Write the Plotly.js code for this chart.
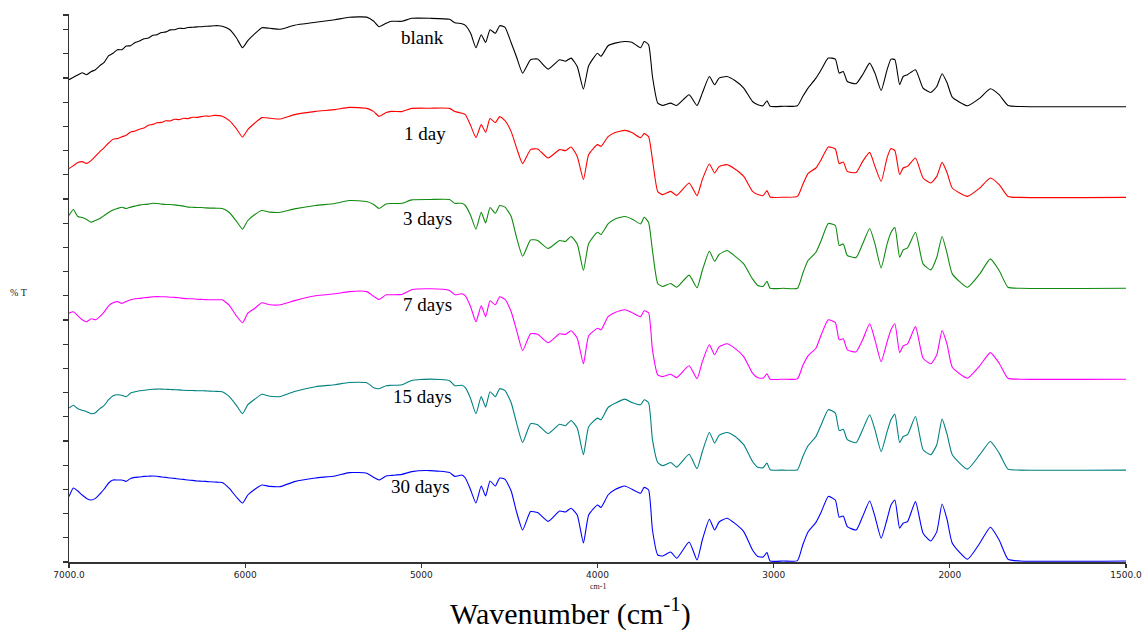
<!DOCTYPE html>
<html>
<head>
<meta charset="utf-8">
<script src="https://cdn.plot.ly/plotly-3.0.1.min.js"></script>
<style>
  html, body { margin: 0; padding: 0; background: #ffffff; }
  #chart { width: 1147px; height: 633px; }
</style>
</head>
<body>
<div id="chart"></div>
<script>
// Wavenumber grid (cm-1) shared by all spectra
const wavenumber = [
  7000, 6975, 6950, 6925, 6900, 6875, 6850, 6825, 6800, 6775,
  6750, 6725, 6700, 6675, 6650, 6625, 6600, 6575, 6550, 6525,
  6500, 6475, 6450, 6425, 6400, 6375, 6350, 6325, 6300, 6275,
  6250, 6225, 6200, 6175, 6150,
  6130, 6090, 6050, 6015, 5985, 5945, 5905, 5860, 5800, 5720,
  5600, 5490, 5410, 5310, 5270, 5240, 5200, 5170, 5110, 5055,
  4950, 4840, 4810, 4770, 4750, 4720, 4690, 4660, 4635, 4610,
  4580, 4555, 4525, 4490, 4460, 4425, 4380, 4340, 4280, 4215,
  4182, 4150, 4115, 4080, 4050, 4000, 3980, 3940, 3900, 3845,
  3805, 3755, 3735, 3710, 3688, 3658, 3630, 3585, 3550, 3480,
  3435, 3405, 3365, 3335, 3310, 3265, 3220, 3170, 3120, 3090,
  3060, 3038, 3020, 2945, 2865, 2835, 2805, 2760, 2730, 2690,
  2650, 2628, 2605, 2582, 2532, 2495, 2455, 2425, 2390, 2356,
  2334, 2312, 2285, 2265, 2240, 2195, 2152, 2108, 2074, 2044,
  2015, 1993, 1950, 1915, 1885, 1860, 1835, 1800, 1500
];

// Relative transmittance of each sample (arbitrary units above its own baseline)
const blank = [
  13.4, 14.6, 15.8, 16.9, 15.9, 17.4, 18.4, 20.4, 22.1, 25.4,
  26.6, 28.4, 28.4, 30.2, 30.4, 32.0, 32.7, 33.9, 34.2, 35.6,
  35.9, 37.0, 37.3, 38.3, 38.4, 39.1, 39.0, 39.5, 39.6, 39.8,
  39.9, 40.1, 40.2, 40.4, 40.4,
  40.1, 38.6, 34.4, 29.4, 32.9, 36.4, 39.4, 39.1, 38.6, 40.6,
  42.1, 43.4, 44.6, 44.7, 42.6, 39.9, 41.6, 42.6, 42.6, 44.1,
  44.1, 43.6, 41.9, 41.4, 40.6, 36.6, 29.4, 35.9, 32.0, 38.4,
  36.6, 40.4, 39.6, 31.9, 24.9, 16.7, 23.4, 23.7, 18.7, 23.4,
  22.6, 24.2, 20.0, 8.7, 20.4, 26.6, 25.1, 30.4, 31.7, 32.5,
  32.1, 29.4, 32.5, 30.9, 15.0, 1.7, 0.5, 1.7, 0.5, 5.9,
  0.5, 6.7, 15.0, 10.9, 14.2, 15.0, 13.0, 9.2, 2.5, 0.9,
  0.4, 2.9, 0.1, 0.1, 0.4, 5.0, 9.2, 14.2, 18.4, 24.2,
  23.7, 16.7, 17.5, 12.5, 11.4, 15.9, 21.7, 16.7, 8.0, 18.4,
  23.7, 23.4, 10.9, 15.0, 15.9, 18.4, 9.2, 7.0, 10.0, 16.4,
  11.7, 4.7, 0.4, 4.2, 8.9, 5.9, 0.5, 0, -0.1
];
const day1 = [
  14.4, 15.9, 17.4, 17.9, 17.0, 18.4, 20.6, 22.9, 24.9, 27.2,
  29.1, 29.4, 30.3, 31.1, 32.7, 33.2, 34.1, 34.7, 36.1, 36.5,
  37.3, 37.5, 38.3, 38.2, 39.1, 38.9, 39.6, 39.4, 40.1, 40.0,
  40.4, 40.7, 40.6, 41.0, 40.9,
  40.6, 38.4, 34.4, 30.2, 33.9, 37.2, 39.9, 39.6, 39.2, 41.4,
  43.0, 43.9, 45.0, 44.5, 42.9, 40.5, 42.4, 43.0, 42.9, 44.5,
  44.6, 44.5, 42.9, 42.1, 41.4, 35.9, 29.9, 36.4, 32.5, 39.4,
  37.4, 40.4, 38.4, 32.9, 24.9, 16.9, 23.9, 24.2, 19.7, 23.9,
  23.4, 25.2, 20.5, 8.9, 21.4, 26.4, 25.5, 30.4, 32.5, 33.5,
  32.4, 29.9, 31.9, 30.4, 18.9, 2.9, 1.4, 3.0, 1.0, 7.2,
  0.9, 8.9, 16.7, 12.2, 15.4, 16.4, 14.2, 10.5, 3.0, 1.4,
  0.9, 3.4, 0.2, 0.1, 0.5, 6.4, 11.9, 14.7, 18.9, 25.2,
  24.2, 16.9, 17.7, 13.0, 12.4, 18.0, 22.5, 15.5, 8.0, 19.9,
  24.4, 23.4, 11.4, 14.7, 15.5, 19.7, 9.7, 7.2, 10.5, 17.5,
  12.2, 4.7, 0.5, 4.7, 9.7, 6.4, 0.5, 0, 0
];
const days3 = [
  36.4, 39.4, 35.9, 35.4, 34.4, 33.0, 33.9, 34.9, 36.4, 37.9,
  39.1, 39.9, 40.5, 39.9, 40.6, 41.1, 41.6, 41.9, 42.1, 42.5,
  42.4, 42.1, 41.9, 41.9, 41.7, 41.4, 41.1, 40.6, 40.5, 40.4,
  40.4, 40.2, 40.1, 40.1, 40.0,
  39.9, 37.9, 33.6, 29.6, 33.9, 36.9, 38.9, 38.1, 38.0, 39.7,
  41.4, 42.4, 43.9, 43.4, 41.9, 39.9, 42.2, 42.4, 42.5, 44.2,
  44.4, 44.4, 42.5, 42.5, 41.4, 36.4, 29.6, 38.0, 32.7, 40.4,
  37.5, 41.4, 40.6, 35.9, 25.6, 16.0, 24.2, 23.9, 19.9, 23.9,
  23.4, 25.9, 22.2, 8.9, 22.4, 28.0, 26.9, 32.2, 34.7, 35.9,
  34.7, 32.2, 35.5, 32.9, 18.9, 2.4, 0.9, 2.4, 0.5, 6.6,
  0.3, 8.9, 18.5, 13.5, 16.9, 18.9, 16.1, 12.2, 4.7, 1.4,
  0.9, 3.5, 0, 0, 0, 7.4, 13.9, 18.0, 23.9, 32.4,
  31.4, 21.4, 22.2, 16.4, 15.4, 22.2, 29.9, 22.2, 10.2, 22.2,
  27.9, 30.4, 15.5, 19.2, 20.2, 28.0, 12.2, 9.2, 15.5, 25.9,
  17.2, 7.2, 0.5, 7.2, 14.7, 8.9, 0.5, 0, 0
];
const days7 = [
  33.0, 33.7, 31.7, 29.7, 28.7, 30.2, 29.7, 31.3, 33.7, 36.7,
  38.2, 38.8, 37.9, 38.9, 39.7, 40.2, 40.4, 40.7, 40.9, 41.2,
  41.3, 41.2, 41.2, 41.0, 40.9, 40.7, 40.4, 40.2, 40.2, 40.0,
  39.9, 39.8, 39.7, 39.7, 39.7,
  39.7, 36.9, 31.7, 28.2, 33.0, 35.5, 38.2, 37.2, 37.2, 39.3,
  41.7, 42.7, 43.8, 43.8, 41.4, 39.9, 42.2, 42.2, 42.4, 44.7,
  45.2, 44.4, 42.2, 42.7, 41.7, 36.2, 28.7, 36.7, 31.3, 39.2,
  37.2, 41.2, 39.9, 33.7, 24.7, 14.3, 22.7, 22.5, 18.2, 22.7,
  22.4, 24.2, 20.5, 7.7, 21.7, 25.5, 24.7, 31.3, 33.4, 34.7,
  33.3, 31.3, 34.2, 33.2, 14.7, 2.2, 1.3, 2.5, 0.8, 6.7,
  0.2, 8.7, 17.2, 12.2, 16.2, 17.7, 15.4, 11.3, 3.0, 0.7,
  0.5, 2.7, 0, 0, 0.2, 6.7, 11.7, 15.5, 22.2, 29.7,
  28.3, 19.7, 20.2, 14.7, 13.7, 19.7, 27.7, 19.7, 8.8, 18.7,
  24.7, 27.7, 13.3, 16.7, 17.7, 26.3, 10.5, 7.7, 12.2, 24.3,
  17.2, 6.0, 0.5, 6.7, 13.3, 8.0, 0.5, 0, 0
];
const days15 = [
  31.0, 32.4, 30.7, 29.9, 29.2, 28.2, 28.7, 30.7, 32.4, 35.2,
  37.2, 37.7, 37.4, 36.7, 38.5, 39.2, 39.7, 39.9, 40.2, 40.4,
  40.5, 40.5, 40.4, 40.3, 40.2, 40.1, 39.9, 39.8, 39.8, 39.7,
  39.7, 39.6, 39.5, 39.4, 39.3,
  39.2, 36.7, 32.4, 28.2, 32.7, 35.5, 37.9, 36.9, 36.8, 39.3,
  41.7, 42.7, 43.8, 43.7, 41.2, 40.7, 42.2, 42.4, 42.7, 44.8,
  45.5, 44.7, 42.2, 42.4, 41.2, 35.7, 28.2, 36.8, 31.5, 39.2,
  36.7, 40.7, 39.7, 33.7, 23.7, 13.8, 23.2, 22.7, 18.2, 22.9,
  22.2, 24.8, 21.0, 7.7, 21.7, 26.0, 25.2, 31.3, 33.4, 35.5,
  33.8, 32.7, 35.2, 33.7, 15.2, 3.8, 2.2, 3.8, 1.5, 7.9,
  0.7, 9.2, 18.8, 13.5, 17.4, 18.8, 16.9, 12.7, 4.3, 1.4,
  1.2, 3.5, 0.2, 0, 0.2, 6.7, 12.2, 16.8, 22.7, 30.2,
  28.5, 19.8, 20.4, 15.2, 13.7, 20.2, 27.7, 20.2, 9.3, 19.2,
  25.2, 27.9, 13.8, 16.8, 17.7, 26.8, 10.2, 7.7, 12.7, 25.5,
  17.7, 7.7, 0.5, 7.7, 14.3, 8.5, 0.5, 0, 0
];
const days30 = [
  32.2, 36.5, 35.0, 33.0, 31.3, 30.5, 31.3, 33.5, 36.0, 39.0,
  40.5, 40.5, 40.5, 39.8, 41.3, 41.8, 42.0, 42.3, 42.4, 42.5,
  42.4, 42.0, 41.8, 41.5, 41.3, 41.0, 40.8, 40.5, 40.3, 40.0,
  39.9, 39.8, 39.6, 39.5, 39.4,
  39.3, 36.3, 32.0, 29.0, 33.0, 35.9, 38.0, 37.3, 37.2, 39.7,
  41.5, 42.5, 44.2, 43.9, 41.8, 40.5, 42.5, 42.8, 43.3, 44.7,
  45.2, 44.2, 42.3, 43.0, 41.5, 35.5, 29.0, 37.5, 32.5, 40.0,
  37.5, 41.5, 40.8, 35.0, 24.7, 15.5, 24.7, 24.2, 19.8, 25.0,
  24.5, 26.4, 23.0, 9.0, 23.0, 28.0, 26.8, 33.0, 35.8, 37.5,
  35.9, 33.9, 36.8, 35.5, 15.5, 3.0, 2.5, 4.5, 1.4, 9.5,
  0.5, 10.5, 20.9, 15.5, 19.5, 21.4, 18.8, 14.7, 5.5, 2.3,
  2.0, 4.2, 0, 0, 0.2, 8.0, 14.5, 19.3, 24.5, 32.3,
  30.5, 21.9, 22.5, 17.2, 15.5, 22.2, 30.0, 22.2, 11.4, 21.0,
  28.0, 30.5, 16.4, 18.9, 19.7, 29.7, 13.9, 10.0, 14.7, 28.5,
  20.5, 8.9, 0.9, 8.9, 16.9, 10.5, 0.9, 0, 0
];

const seriesNames = ['blank', '1 day', '3 days', '7 days', '15 days', '30 days'];
const seriesValues = [blank, day1, days3, days7, days15, days30];

// Axis ticks
const tickWavenumbers = [7000, 6000, 5000, 4000, 3000, 2000, 1500];
const tickLabels = ['7000.0', '6000', '5000', '4000', '3000', '2000', '1500.0'];

// Presentation
const lineColors = ['#000000', '#ff0000', '#108a10', '#ff00ff', '#008080', '#0000ff'];
const stackBase = 0.5;
const stackStep = 45.45;
const yTop = 274;
const yTickStep = 12.1;
const labelAnchors = [
  { wn: 5125, y: 262.3 },
  { wn: 5108, y: 214.5 },
  { wn: 5114, y: 171.8 },
  { wn: 5114, y: 129.0 },
  { wn: 5173, y: 83.0 },
  { wn: 5182, y: 38.0 }
];

// The spectrometer display doubles the scale below 2000 cm-1
function axisPos(wn) {
  return wn >= 2000 ? wn : 2000 - 2 * (2000 - wn);
}

const n = seriesNames.length;
const traces = seriesValues.map((vals, i) => {
  const offset = stackBase + stackStep * (n - 1 - i);
  return {
    type: 'scatter',
    mode: 'lines',
    name: seriesNames[i],
    x: wavenumber.map(axisPos),
    y: vals.map(v => v + offset),
    line: { color: lineColors[i], width: 1.1, shape: 'spline', smoothing: 0.5 },
    hoverinfo: 'skip'
  };
});

const yTicks = [];
for (let v = 0; v < yTop - 5; v += yTickStep) yTicks.push(v);
yTicks.push(yTop - 0.5);

const serif = '"Liberation Serif", "Times New Roman", serif';

const annotations = seriesNames.map((name, i) => ({
  text: name,
  x: axisPos(labelAnchors[i].wn),
  y: labelAnchors[i].y,
  xref: 'x', yref: 'y',
  xanchor: 'left', yanchor: 'middle',
  showarrow: false,
  font: { family: serif, size: 19, color: '#000000' }
}));

annotations.push(
  {
    text: '% T', xref: 'paper', yref: 'paper', x: -0.048, y: 0.491,
    xanchor: 'center', yanchor: 'middle', showarrow: false,
    font: { family: serif, size: 10, color: '#222222' }
  },
  {
    text: 'cm-1', xref: 'x', yref: 'paper', x: axisPos(4000), y: -0.045,
    xanchor: 'center', yanchor: 'middle', showarrow: false,
    font: { family: serif, size: 8, color: '#222222' }
  },
  {
    text: 'Wavenumber (cm<sup>-1</sup>)', xref: 'paper', yref: 'paper', x: 0.474, y: -0.091,
    xanchor: 'center', yanchor: 'middle', showarrow: false,
    font: { family: serif, size: 30, color: '#000000' }
  }
);

const layout = {
  width: 1147,
  height: 633,
  margin: { l: 69, r: 21, t: 14, b: 71 },
  paper_bgcolor: '#ffffff',
  plot_bgcolor: '#ffffff',
  showlegend: false,
  xaxis: {
    range: [axisPos(7000), axisPos(1500)],
    tickmode: 'array',
    tickvals: tickWavenumbers.map(axisPos),
    ticktext: tickLabels,
    ticks: 'outside', ticklen: 4, tickwidth: 1.2, tickcolor: '#333333',
    showline: true, linecolor: '#333333', linewidth: 1.5,
    showgrid: false, zeroline: false,
    tickfont: { family: '"DejaVu Sans", Verdana, sans-serif', size: 9, color: '#222222' }
  },
  yaxis: {
    range: [0, yTop],
    tickmode: 'array',
    tickvals: yTicks,
    showticklabels: false,
    ticks: 'outside', ticklen: 5, tickwidth: 1.2, tickcolor: '#333333',
    showline: true, linecolor: '#333333', linewidth: 1.5,
    showgrid: false, zeroline: false
  },
  annotations: annotations
};

Plotly.newPlot('chart', traces, layout, { staticPlot: true, displayModeBar: false });
</script>
</body>
</html>
